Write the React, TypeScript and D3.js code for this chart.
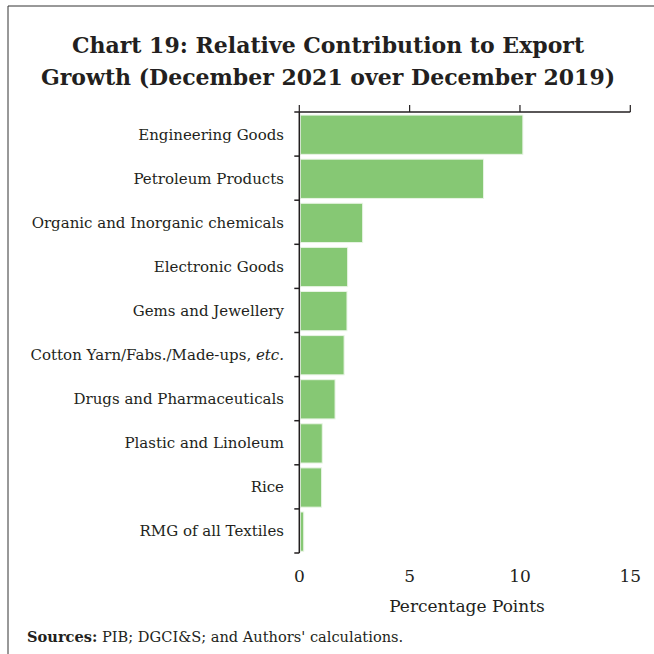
import React from "react";
import * as d3 from "d3";

const categories = [
  "Engineering Goods",
  "Petroleum Products",
  "Organic and Inorganic chemicals",
  "Electronic Goods",
  "Gems and Jewellery",
  "Cotton Yarn/Fabs./Made-ups, etc.",
  "Drugs and Pharmaceuticals",
  "Plastic and Linoleum",
  "Rice",
  "RMG of all Textiles",
];
const values = [10.13, 8.35, 2.87, 2.19, 2.16, 2.03, 1.62, 1.04, 1.01, 0.2];
const xTicks = [0, 5, 10, 15];
const titleLines = [
  "Chart 19: Relative Contribution to Export",
  "Growth (December 2021 over December 2019)",
];

const W = 654;
const H = 654;
const left = 299.3;
const right = 630.3;
const top = 112;
const bottom = 553;
const serif = "'DejaVu Serif', 'Liberation Serif', serif";

export default function App() {
  const x = d3.scaleLinear().domain([0, 15]).range([left, right]);
  const y = d3.scaleBand<string>().domain(categories).range([top, bottom]);
  const bandH = y.step();
  const boundaries = d3.range(categories.length + 1).map((i) => top + i * bandH);
  return (
    <svg width={W} height={H} style={{ position: "absolute", left: 0, top: 0, background: "#fff" }}>
      <line x1={8} y1={6} x2={W} y2={6} stroke="#333" strokeWidth={1} />
      <line x1={8} y1={6} x2={8} y2={H} stroke="#333" strokeWidth={1} />
      {titleLines.map((t, i) => (
        <text key={i} x={328} y={53 + i * 32} textAnchor="middle" fontFamily={serif} fontWeight="bold" fontSize={22} fill="#231f20">
          {t}
        </text>
      ))}
      {categories.map((c, i) => {
        const y0 = y(c) as number;
        return (
          <g key={c}>
            <rect
              x={x(0) + 1}
              y={y0 + bandH * 0.07}
              width={Math.max(0, x(values[i]) - x(0) - 1)}
              height={bandH * 0.89}
              fill="#86c874"
              stroke="#e8f4e4"
              strokeWidth={1}
            />
            <text x={284} y={y0 + bandH / 2 + 5.5} textAnchor="end" fontFamily={serif} fontSize={15} fill="#231f20">
              {c.endsWith("etc.") ? (
                <>
                  {c.replace("etc.", "")}
                  <tspan fontStyle="italic">etc.</tspan>
                </>
              ) : (
                c
              )}
            </text>
          </g>
        );
      })}
      <line x1={left} y1={top} x2={left} y2={bottom} stroke="#231f20" strokeWidth={1.5} />
      {boundaries.map((b, i) => (
        <line key={i} x1={left - 5} y1={b} x2={left} y2={b} stroke="#231f20" strokeWidth={1.5} />
      ))}
      <line x1={left} y1={top} x2={right} y2={top} stroke="#231f20" strokeWidth={1.5} />
      {xTicks.map((t) => (
        <g key={t}>
          <line x1={x(t)} y1={top} x2={x(t)} y2={top - 7} stroke="#231f20" strokeWidth={1.2} />
          <text x={x(t)} y={582} textAnchor="middle" fontFamily={serif} fontSize={17} fill="#231f20">
            {t}
          </text>
        </g>
      ))}
      <text x={467} y={612} textAnchor="middle" fontFamily={serif} fontSize={17} fill="#231f20">
        Percentage Points
      </text>
      <text x={27} y={642} fontFamily={serif} fontSize={14.6} fill="#231f20">
        <tspan fontWeight="bold">Sources:</tspan> PIB; DGCI&amp;S; and Authors' calculations.
      </text>
    </svg>
  );
}
